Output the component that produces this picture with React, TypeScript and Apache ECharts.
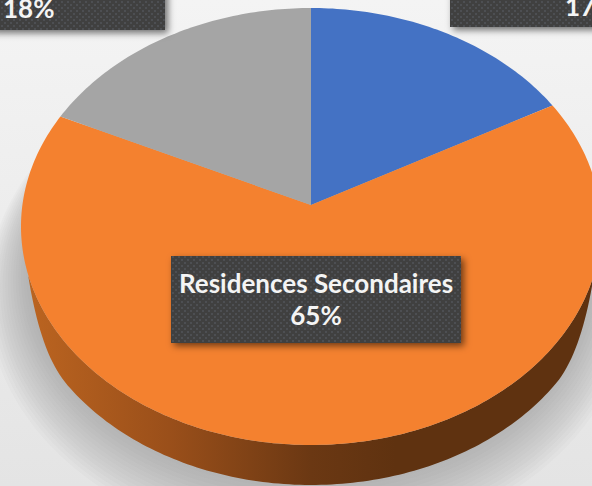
import React, { useEffect, useRef } from "react";
import * as echarts from "echarts";

const categories = ["", "Residences Secondaires", ""];
const shares = [17, 65, 18];
const sliceColors = ["#4472c4", "#f4812f", "#a5a5a5"];

const WIDTH = 592;
const HEIGHT = 486;

// Tilted disc: projective map of the unit circle, so the hub sits above the ellipse centre.
const HUB_X = 311;
const HUB_Y = 205;
const SPREAD_X = 288.6;
const SPREAD_Y = 196.2;
const TILT = 0.0984;
const DEPTH = 40;
// The side wall emerges from behind the rim at this height and reaches full depth below it.
const WALL_START_Y = 274;
const WALL_RAMP = 70;
// Cast shadow built from stacked translucent ellipses that slide downward as they grow.
const SHADOW_LAYERS = 16;
const SHADOW_STEP = 2.6;
const SHADOW_DROP = 1.6;

function project(turn: number): [number, number] {
  const u = Math.sin(turn);
  const v = Math.cos(turn);
  const w = 1 + TILT * v;
  return [HUB_X + (SPREAD_X * u) / w, (HUB_Y - SPREAD_Y * v) / w];
}

function arc(from: number, to: number): [number, number][] {
  const steps = Math.max(2, Math.ceil((to - from) * 60));
  const pts: [number, number][] = [];
  for (let i = 0; i <= steps; i++) pts.push(project(from + ((to - from) * i) / steps));
  return pts;
}

function wallDepth(y: number): number {
  const t = Math.min(1, (y - WALL_START_Y) / WALL_RAMP);
  return DEPTH * Math.sin((t * Math.PI) / 2);
}

function dotTile(): HTMLCanvasElement {
  const c = document.createElement("canvas");
  c.width = 6;
  c.height = 6;
  const g = c.getContext("2d")!;
  g.fillStyle = "#3f3f3f";
  g.fillRect(0, 0, 6, 6);
  g.fillStyle = "#4e5052";
  g.fillRect(1, 1, 2, 2);
  g.fillRect(4, 4, 2, 2);
  return c;
}

function renderSlice(params: any, api: any) {
  const idx = params.dataIndex;
  const total = shares.reduce((a, b) => a + b, 0);
  const before = shares.slice(0, idx).reduce((a, b) => a + b, 0);
  const from = (before / total) * Math.PI * 2;
  const to = ((before + api.value(0)) / total) * Math.PI * 2;
  const rim = arc(from, to);
  const front = rim.filter((p) => p[1] >= WALL_START_Y);
  const children: any[] = [];
  if (front.length > 1) {
    const lower = front.map((p) => [p[0], p[1] + wallDepth(p[1])]).reverse();
    children.push({
      type: "polygon",
      shape: { points: [...front, ...lower] },
      style: {
        fill: new echarts.graphic.LinearGradient(0, 0, 1, 0, [
          { offset: 0, color: "#bb6420" },
          { offset: 0.25, color: "#9a4f1a" },
          { offset: 0.5, color: "#6b3813" },
          { offset: 0.65, color: "#5f3210" },
          { offset: 1, color: "#5f3210" },
        ]),
      },
    });
  }
  children.push({
    type: "polygon",
    shape: { points: [[HUB_X, HUB_Y], ...rim] },
    style: { fill: sliceColors[idx] },
  });
  return { type: "group", children };
}

export default function App() {
  const ref = useRef<HTMLDivElement>(null);

  useEffect(() => {
    const chart = echarts.init(ref.current!, null, { renderer: "svg" });
    const tile = dotTile();
    const boxStyle = {
      fill: { image: tile, repeat: "repeat" },
      shadowBlur: 7,
      shadowOffsetX: 3,
      shadowOffsetY: 3,
      shadowColor: "rgba(0,0,0,0.55)",
    };
    const textStyle = {
      fill: "#f4f4f4",
      fontFamily: "Lato",
      fontWeight: 700,
      fontSize: 26,
    };
    const shadowLayers = Array.from({ length: SHADOW_LAYERS }, (_, i) => ({
      type: "ellipse",
      z: -5,
      shape: {
        cx: HUB_X - 2,
        cy: 272 + i * SHADOW_DROP,
        rx: 283 + i * SHADOW_STEP,
        ry: 212 + i * SHADOW_STEP,
      },
      style: { fill: "rgba(128,132,136,0.045)" },
    }));
    chart.setOption({
      animation: false,
      graphic: [
        {
          type: "rect",
          z: -10,
          shape: { x: 0, y: 0, width: WIDTH, height: HEIGHT },
          style: {
            fill: new echarts.graphic.LinearGradient(0, 0, 0, 1, [
              { offset: 0, color: "#f4f4f4" },
              { offset: 1, color: "#e4e4e4" },
            ]),
          },
        },
        ...shadowLayers,
        {
          type: "rect",
          z: 20,
          shape: { x: -10, y: -30, width: 175, height: 60 },
          style: boxStyle,
        },
        {
          type: "text",
          z: 21,
          x: 3,
          y: 8,
          style: { ...textStyle, text: `${shares[2]}%`, textVerticalAlign: "middle" },
        },
        {
          type: "rect",
          z: 20,
          shape: { x: 450, y: -30, width: 170, height: 57 },
          style: boxStyle,
        },
        {
          type: "text",
          z: 21,
          x: 565,
          y: 6,
          style: { ...textStyle, text: `${shares[0]}%`, textVerticalAlign: "middle" },
        },
        {
          type: "rect",
          z: 20,
          shape: { x: 171, y: 256, width: 290, height: 87 },
          style: boxStyle,
        },
        {
          type: "text",
          z: 21,
          x: 316,
          y: 299,
          style: {
            ...textStyle,
            text: `${categories[1]}\n${shares[1]}%`,
            textAlign: "center",
            textVerticalAlign: "middle",
            lineHeight: 32,
          },
        },
      ],
      series: [
        {
          type: "custom",
          coordinateSystem: "none",
          z: 5,
          clip: false,
          data: shares.map((v) => [v]),
          renderItem: renderSlice,
        },
      ],
    });
    return () => chart.dispose();
  }, []);

  return (
    <div
      ref={ref}
      style={{ position: "absolute", left: 0, top: 0, width: WIDTH, height: HEIGHT, overflow: "hidden" }}
    />
  );
}
